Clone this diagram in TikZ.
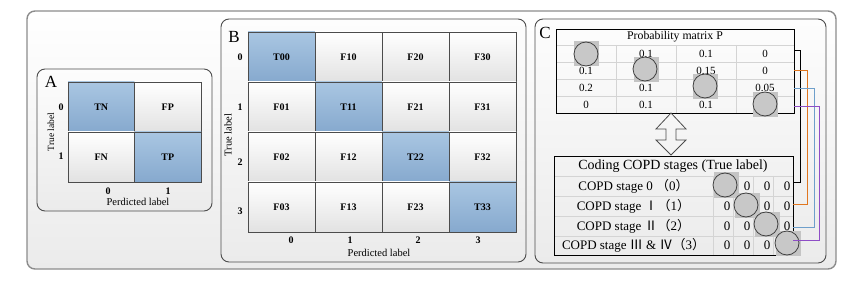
\documentclass[tikz,border=0pt]{standalone}
\usepackage{fontspec}
\setmainfont{Liberation Serif}
\newfontfamily\cjk{Noto Sans CJK SC}
\definecolor{bluetop}{HTML}{A9C6E2}
\definecolor{bluebot}{HTML}{86A9CE}
\definecolor{cellbot}{HTML}{E2E2E2}
\definecolor{bgtop}{HTML}{FDFDFD}
\definecolor{bgbot}{HTML}{EBEBEB}
\definecolor{circfill}{HTML}{C8C8C8}
\definecolor{sqfill}{HTML}{C4C4C4}
\definecolor{lorange}{HTML}{E0761F}
\definecolor{lblue}{HTML}{6E9FCB}
\definecolor{lpurple}{HTML}{8E4EC6}
\definecolor{gridgray}{HTML}{D4D4D4}
\begin{document}
\begin{tikzpicture}[x=1pt,y=-1pt,
  outerbox/.style={draw=black!45, line width=1.4pt, rounded corners=8pt, top color=white, bottom color=bgbot},
  panelbox/.style={draw=black!70, line width=0.9pt, rounded corners=8pt, top color=bgtop, bottom color=bgbot},
  cellbase/.style={draw=black!70, line width=0.9pt, inner sep=0pt, font=\fontsize{10}{12}\selectfont\bfseries},
  bcell/.style={cellbase, top color=bluetop, bottom color=bluebot},
  wcell/.style={cellbase, top color=white, bottom color=cellbot},
  ticklab/.style={font=\fontsize{10}{12}\selectfont\bfseries, inner sep=0pt},
  axlab/.style={font=\fontsize{10.5}{12}\selectfont, inner sep=0pt},
  letter/.style={font=\fontsize{17}{20}\selectfont, inner sep=0pt},
  val/.style={font=\fontsize{11}{12}\selectfont, inner sep=0pt},
  rowtxt/.style={font=\fontsize{13}{14}\selectfont, inner sep=0pt},
  graysq/.style={fill=sqfill, minimum size=25pt, inner sep=0pt},
  graycirc/.style={circle, draw=black!75, line width=0.8pt, fill=circfill, minimum size=24pt, inner sep=0pt},
  tbox/.style={draw=black, line width=0.9pt, inner sep=0pt, anchor=north west},
  gline/.style={draw=gridgray, line width=0.6pt},
  link/.style={line width=1pt}
]
\useasboundingbox (0,0) rectangle (849,286);
% frames
\path[outerbox] (27,11) rectangle (836,269);
\path[panelbox] (37,69) rectangle (212,211);
\path[panelbox] (221,19) rectangle (526,262);
\path[panelbox] (535,19) rectangle (826,263);

% ---------------- Panel A
\node[letter] (la) at (51,82) {A};
\node[bcell, minimum width=66.5pt, minimum height=50pt] (tn) at (101.25,107) {TN};
\node[wcell, minimum width=66.5pt, minimum height=50pt] (fp) at (167.75,107) {FP};
\node[wcell, minimum width=66.5pt, minimum height=50pt] (fn) at (101.25,157) {FN};
\node[bcell, minimum width=66.5pt, minimum height=50pt] (tp) at (167.75,157) {TP};
\node[ticklab] (ar0) at (61,107) {0};
\node[ticklab] (ar1) at (61,156) {1};
\node[ticklab] (ac0) at (108,191) {0};
\node[ticklab] (ac1) at (168,191) {1};
\node[axlab, rotate=90, font=\fontsize{9.5}{11}\selectfont] (aty) at (51,132) {True label};
\node[axlab] (atx) at (138,202) {Perdicted label};

% ---------------- Panel B
\node[letter] (lb) at (234,37) {B};
\foreach \r in {0,1,2,3}{
  \foreach \c in {0,1,2,3}{
    \ifnum\r=\c
      \node[bcell, minimum width=67pt, minimum height=50pt] (b\r\c) at (281.5+67*\c, 57+50*\r) {T\r\r};
    \else
      \node[wcell, minimum width=67pt, minimum height=50pt] (b\r\c) at (281.5+67*\c, 57+50*\r) {F\c\r};
    \fi
  }
}
\node[ticklab] (br0) at (240,57) {0};
\node[ticklab] (br1) at (240,107) {1};
\node[ticklab] (br2) at (240,162) {2};
\node[ticklab] (br3) at (240,211) {3};
\node[ticklab] (bc0) at (291,240) {0};
\node[ticklab] (bc1) at (350,240) {1};
\node[ticklab] (bc2) at (418,240) {2};
\node[ticklab] (bc3) at (478,240) {3};
\node[axlab, rotate=90] (bty) at (228,135) {True label};
\node[axlab] (btx) at (379,253) {Perdicted label};

% ---------------- Panel C
\node[letter] (lc) at (545,33) {C};
% probability matrix
\foreach \yy in {45,62,79,96}{\draw[gline] (556,\yy) -- (794,\yy);}
\foreach \xx in {616,676,736}{\draw[gline] (\xx,45) -- (\xx,113);}
\node[tbox, minimum width=238pt, minimum height=84pt] (pm) at (556,29) {};
\node[val, font=\fontsize{11.8}{13}\selectfont] (pmt) at (675,37) {Probability matrix P};
\node[val] (pv01) at (646,53.5) {0.1};
\node[val] (pv02) at (706,53.5) {0.1};
\node[val] (pv03) at (765,53.5) {0};
\node[val] (pv10) at (586,70.5) {0.1};
\node[val] (pv12) at (706,70.5) {0.15};
\node[val] (pv13) at (765,70.5) {0};
\node[val] (pv20) at (586,87.5) {0.2};
\node[val] (pv21) at (646,87.5) {0.1};
\node[val] (pv23) at (765,87.5) {0.05};
\node[val] (pv30) at (586,104.5) {0};
\node[val] (pv31) at (646,104.5) {0.1};
\node[val] (pv32) at (706,104.5) {0.1};
\node[graysq] (psq0) at (586.5,54) {};
\node[graysq] (psq1) at (646,69.5) {};
\node[graysq] (psq2) at (705.5,86.5) {};
\node[graysq] (psq3) at (765.5,104.5) {};
\node[graycirc] (pc0) at (586,54) {};
\node[graycirc] (pc1) at (645,69) {};
\node[graycirc] (pc2) at (705,86) {};
\node[graycirc] (pc3) at (765,104) {};

% double arrow
\draw[draw=black!70, line width=0.8pt, line join=miter]
  (671,113) -- (686,129) -- (676,129) -- (676,140) -- (686,140) -- (671,155)
  -- (656,140) -- (666,140) -- (666,129) -- (656,129) -- cycle;

% coding table
\foreach \yy in {176,196,216,236}{\draw[gline] (554,\yy) -- (793,\yy);}
\foreach \xx in {713,733,753,773}{\draw[gline] (\xx,176) -- (\xx,255);}
\node[tbox, minimum width=239pt, minimum height=99pt] (ct) at (554,156) {};
\node[rowtxt, font=\fontsize{14}{15}\selectfont] (ctt) at (673,166) {Coding COPD stages (True label)};
\node[rowtxt] (cl0) at (633.5,186) {COPD stage 0 {\cjk （}0{\cjk ）}};
\node[rowtxt] (cl1) at (633.5,206) {COPD stage {\cjk Ⅰ（}1{\cjk ）}};
\node[rowtxt] (cl2) at (633.5,226) {COPD stage {\cjk Ⅱ（}2{\cjk ）}};
\node[rowtxt] (cl3) at (633.5,245.5) {COPD stage {\cjk Ⅲ} \& {\cjk Ⅳ（}3{\cjk ）}};
\node[rowtxt] (cz01) at (747,186) {0};
\node[rowtxt] (cz02) at (767,186) {0};
\node[rowtxt] (cz03) at (787,186) {0};
\node[rowtxt] (cz10) at (727,206) {0};
\node[rowtxt] (cz12) at (767,206) {0};
\node[rowtxt] (cz13) at (787,206) {0};
\node[rowtxt] (cz20) at (727,226) {0};
\node[rowtxt] (cz21) at (747,226) {0};
\node[rowtxt] (cz23) at (787,226) {0};
\node[rowtxt] (cz30) at (727,245.5) {0};
\node[rowtxt] (cz31) at (747,245.5) {0};
\node[rowtxt] (cz32) at (767,245.5) {0};
\node[graysq] (csq0) at (726.5,185) {};
\node[graysq] (csq1) at (747,205) {};
\node[graysq] (csq2) at (767,224) {};
\node[graysq] (csq3) at (788,243) {};
\node[graycirc] (cc0) at (725,185) {};
\node[graycirc] (cc1) at (746,205) {};
\node[graycirc] (cc2) at (766,224) {};
\node[graycirc] (cc3) at (787,243) {};

% connectors
\coordinate (pr0) at (794,51);
\coordinate (pr1) at (794,71);
\coordinate (pr2) at (794,89);
\coordinate (pr3) at (794,107);
\coordinate (cr0) at (793,183);
\coordinate (cr1) at (793,204);
\coordinate (cr2) at (793,227);
\coordinate (cr3) at (793,240);
\draw[link, black] (pr0) -- ++(6,0) |- (cr0);
\draw[link, lorange] (pr1) -- ++(13,0) |- (cr1);
\draw[link, lblue] (pr2) -- ++(20,0) |- (cr2);
\draw[link, lpurple] (pr3) -- ++(25,0) |- (cr3);
\end{tikzpicture}
\end{document}
